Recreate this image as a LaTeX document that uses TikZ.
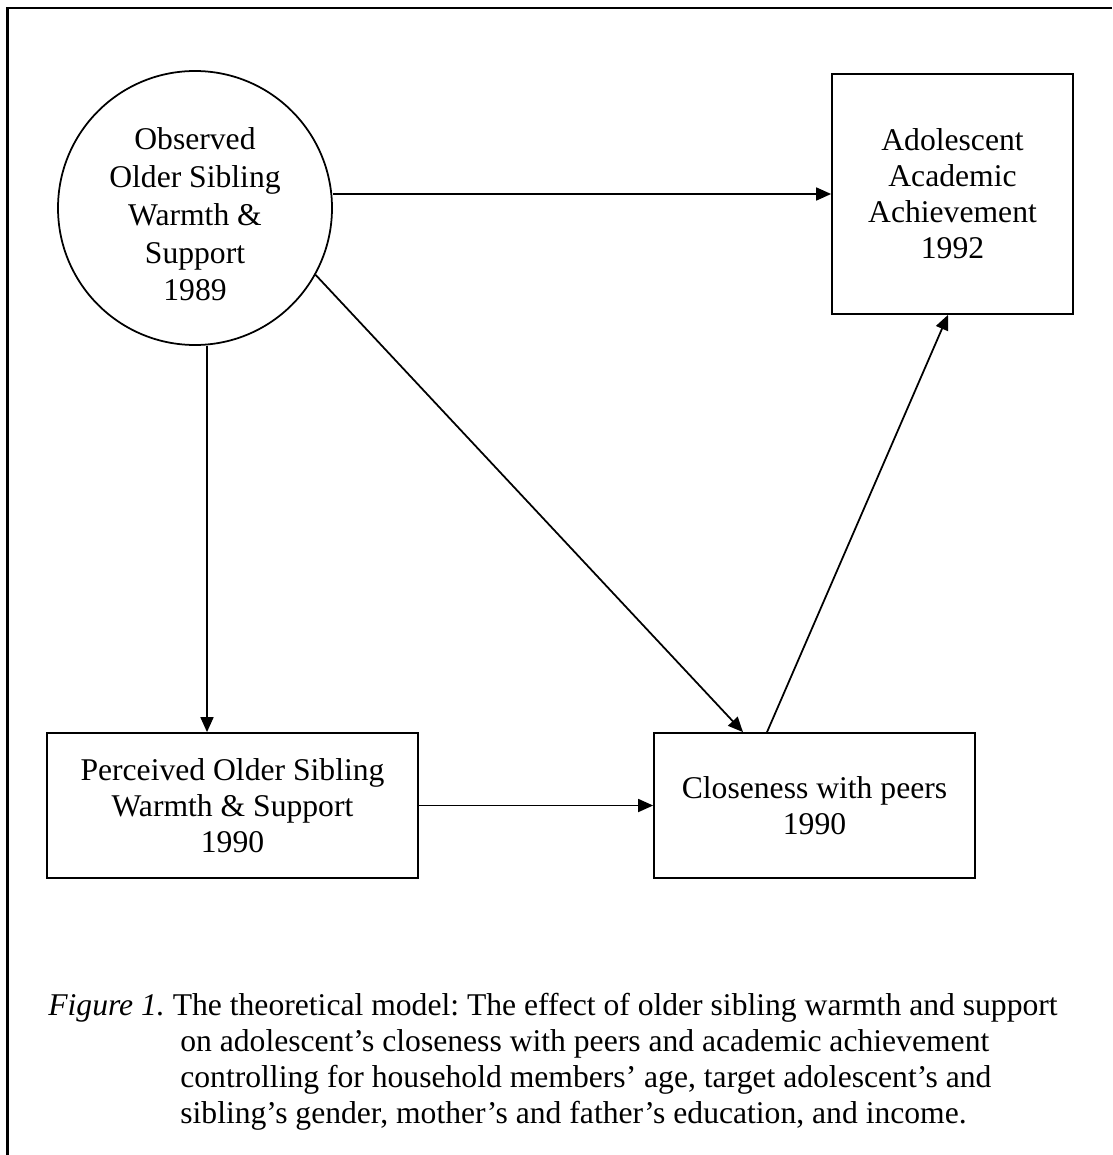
\documentclass[tikz,border=0pt]{standalone}
\usepackage{fontspec}
\setmainfont{Liberation Serif}
\usepackage{tikz}
\usetikzlibrary{shapes,arrows.meta,positioning}
\frenchspacing
\tikzstyle{latent}=[circle,
	line width=1pt,
	draw=black,
	inner sep=0pt,
	minimum size=5.48cm,
	align=center]
\tikzstyle{measured}=[rectangle,
	line width=1pt,
	draw=black,
	minimum height=2.9cm,
	align=center]
\tikzstyle{effect}=[line width=1pt,
	-{Triangle[length=0.3cm,width=0.26cm]}]

\begin{document}
\begin{tikzpicture}[font=\fontsize{18}{20.5}\selectfont]
					\useasboundingbox (0,0) rectangle (22.24,-23.1);
					\draw[line width=1.2pt] (0.15,-23.1) -- (0.15,-0.16) -- (22.24,-0.16);

					\node (obs) [latent, font=\fontsize{18}{21.5}\selectfont] at (3.9,-4.16) {\rule{0pt}{0.7cm}Observed\\Older Sibling\\Warmth \&\\Support\\1989};
					\node (ach) [measured, minimum width=4.82cm, minimum height=4.8cm] at (19.05,-3.88) {Adolescent\\Academic\\Achievement\\1992};
					\draw[effect] (obs.east |- ach.west) -- (ach.west);

					\node (perc) [measured, minimum width=7.42cm] at (4.65,-16.11) {Perceived Older Sibling\\Warmth \& Support\\1990};
					\draw[effect] ([xshift=0.24cm]obs.south) -- ([xshift=0.24cm]obs.south |- perc.north);
					\node (clo) [measured, minimum width=6.42cm, right of=perc, node distance=11.64cm] {Closeness with peers\\1990};
					\draw[effect] (perc.east) -- (clo.west);
					\draw[effect] (obs.-29) -- ([xshift=-1.43cm]clo.north);
					\draw[effect] ([xshift=-0.95cm]clo.north) -- ([xshift=-0.09cm]ach.south);

					\node (caption) [anchor=north west, inner sep=0pt, align=left] at (0.96,-19.85)
						{\textit{Figure 1.} The theoretical model: The effect of older sibling warmth and support\\
						\hspace*{2.64cm}on adolescent’s closeness with peers and academic achievement\\
						\hspace*{2.64cm}controlling for household members’ age, target adolescent’s and\\
						\hspace*{2.64cm}sibling’s gender, mother’s and father’s education, and income.};
				\end{tikzpicture}
\end{document}
